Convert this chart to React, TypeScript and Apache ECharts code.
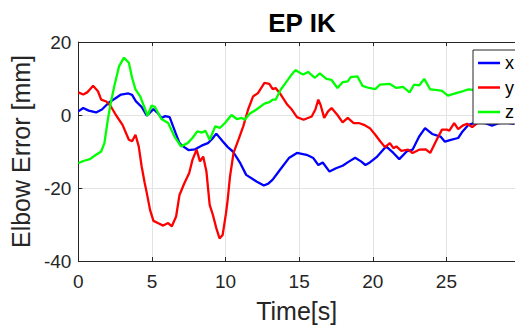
import React, { useEffect, useRef } from "react";
import * as echarts from "echarts";

// Elbow position error per axis over time (s, mm)
const xTime = [0, 0.33, 0.7, 1.2, 1.6, 2.1, 2.5, 2.9, 3.4, 3.65, 3.9, 4.3, 4.65, 5.1, 5.4, 5.64, 5.9, 6.2, 6.6, 6.87, 7.04, 7.48, 7.93, 8.37, 8.8, 9.1, 9.37, 9.8, 10.15, 10.5, 11, 11.4, 12.1, 12.6, 12.9, 13.2, 13.7, 14.3, 14.85, 15.5, 15.96, 16.3, 16.6, 17.06, 17.5, 17.95, 18.4, 18.8, 19.2, 19.5, 19.8, 20.3, 20.9, 21.4, 21.8, 22.3, 22.7, 23.15, 23.55, 24.03, 24.6, 24.9, 25.3, 25.8, 26.1, 26.5, 27.2, 27.6, 28.1, 28.5, 28.9, 29.6];
const xErr = [1.0, 1.9, 1.2, 0.7, 1.5, 3.5, 4.5, 5.6, 5.9, 5.5, 3.8, 2.2, -0.2, 1.6, 0.5, -0.8, -0.3, -0.6, -4.9, -7.7, -8.4, -9.6, -9.4, -8.4, -7.7, -6.5, -5.1, -7.2, -8.8, -10, -13.2, -16.4, -18.2, -19.3, -18.8, -17.7, -15, -11.8, -10.4, -10.9, -11.8, -13.7, -13, -15.5, -14.6, -13.9, -12.7, -11.7, -12.7, -13.7, -13, -11.4, -8.6, -10.4, -12.1, -10, -9.5, -5.9, -3.6, -5.2, -5.9, -7.3, -6.8, -6.3, -4.5, -2.7, -1.8, -2.2, -2.9, -2.3, -2.0, -2.4];

const yTime = [0, 0.33, 0.6, 0.78, 1.0, 1.33, 1.55, 1.9, 2.2, 2.55, 3.0, 3.43, 3.65, 3.88, 4.1, 4.3, 4.5, 4.65, 4.87, 5.1, 5.4, 5.76, 6.1, 6.35, 6.64, 6.87, 7.2, 7.53, 7.75, 8.03, 8.26, 8.48, 8.7, 8.92, 9.14, 9.37, 9.59, 9.8, 10.03, 10.14, 10.3, 10.54, 10.87, 11.2, 11.53, 11.87, 12.2, 12.64, 12.97, 13.2, 13.4, 13.75, 14.2, 14.5, 14.85, 15.3, 15.85, 16.1, 16.3, 16.45, 16.7, 16.96, 17.2, 17.6, 17.95, 18.3, 18.7, 19.05, 19.4, 19.8, 20.17, 20.5, 20.83, 21.16, 21.4, 21.6, 21.94, 22.4, 22.7, 23.15, 23.6, 23.9, 24.4, 24.7, 25.03, 25.2, 25.53, 25.8, 26.1, 26.4, 26.75, 27.1, 27.6, 28.2, 28.8, 29.6];
const yErr = [6.2, 5.6, 6.2, 7, 8, 6.5, 4.2, 3.7, 2.4, 0, -2.7, -6.8, -7.2, -5.4, -8.6, -14.1, -18.5, -21.4, -26, -29, -29.6, -30.3, -29.6, -30.5, -27.8, -21.9, -18.7, -15.9, -12.3, -9.5, -12.7, -11.4, -15.5, -24.6, -27.4, -31, -33.8, -32.9, -26.9, -23.3, -16.9, -10.4, -6.8, -3.1, 1.5, 5.1, 6, 8.8, 8.5, 7.1, 7.4, 5.6, 2.8, 1.5, -0.6, -1.3, -0.4, 1.5, 4.2, 2.8, -0.8, 1, 1.9, 0, -2, -0.8, -2.2, -2.2, -2.7, -3.6, -5.4, -7.2, -8.8, -7.7, -9.1, -8.6, -9.8, -9.5, -10.4, -9.5, -9.4, -10.4, -6.3, -4, -4, -4.3, -2.2, -3.9, -2.9, -2.4, -3.3, -2.2, -1.3, -0.8, -0.4, -0.2];

const zTime = [0, 0.33, 0.78, 1.2, 1.55, 1.77, 2.0, 2.2, 2.44, 2.77, 3.1, 3.43, 3.65, 3.88, 4.2, 4.54, 4.7, 4.98, 5.2, 5.64, 6.1, 6.53, 6.97, 7.42, 7.75, 8.08, 8.4, 8.63, 8.92, 9.3, 9.63, 9.96, 10.4, 10.76, 11.1, 11.3, 11.65, 12.1, 12.64, 12.97, 13.2, 13.4, 13.75, 14.08, 14.4, 14.74, 15.07, 15.27, 15.6, 16.07, 16.4, 16.85, 17.2, 17.6, 17.95, 18.3, 18.5, 18.95, 19.3, 19.74, 20.17, 20.48, 21.16, 21.6, 22.05, 22.5, 22.8, 23.15, 23.5, 23.9, 24.4, 24.7, 25.1, 25.66, 26.1, 26.5, 27, 27.5, 28, 28.9, 29.6];
const zErr = [-13.2, -12.6, -12.1, -10.9, -10, -7.7, -1.3, 3.3, 7.9, 13.4, 15.7, 14.3, 10.2, 7, 5.1, 1.5, -0.2, 2.6, 2.2, -1.1, -2.2, -5.9, -8.6, -7.7, -6.3, -4.5, -4.8, -4.3, -6.8, -3.1, -3.5, -2.2, 0, -1.1, -0.8, -1.3, 0.4, 1.5, 3.1, 3.5, 4.2, 4.2, 7, 8.8, 10.6, 12.3, 11.5, 11.1, 11.8, 10.2, 11.4, 9.9, 9.6, 7.4, 9, 9.2, 10.4, 10.6, 8, 7.4, 7.1, 8.3, 8.5, 7.4, 7.7, 6.2, 8.3, 8.1, 9.9, 7, 6.8, 6.6, 5.3, 6, 6.5, 7, 6.8, 7.2, 7, 7.3, 7.1];

const seriesNames = ["x", "y", "z"];
const seriesColors = ["#0000ff", "#ff0000", "#00ff00"];
const yTicks = { min: -40, max: 20, interval: 20 };
const xTicks = { min: 0, max: 29.66, interval: 5 };

const FONT = "'Liberation Sans', Arial, Helvetica, sans-serif";
const INK = "#262626";
const GRID = "#e3e3e3";

function pairs(t: number[], v: number[]) {
  return t.map((ti, i) => [ti, v[i]]);
}

export default function App() {
  const ref = useRef<HTMLDivElement>(null);

  useEffect(() => {
    document.body.style.margin = "0";
    if (!ref.current) return;
    const chart = echarts.init(ref.current, undefined, { renderer: "svg" });
    const data = [pairs(xTime, xErr), pairs(yTime, yErr), pairs(zTime, zErr)];

    const frameLine = { show: true, onZero: false, lineStyle: { color: INK, width: 1 } };
    const frameTick = { show: true, inside: true, length: 4, lineStyle: { color: INK } };

    chart.setOption({
      animation: false,
      backgroundColor: "#ffffff",
      graphic: [
        {
          type: "text",
          x: 302,
          y: 23,
          style: {
            text: "EP IK",
            font: `bold 26px ${FONT}`,
            fill: "#000000",
            textAlign: "center",
            textVerticalAlign: "middle",
          },
        },
      ],
      grid: { left: 78, top: 42, right: -10, bottom: 68 },
      legend: {
        orient: "vertical",
        left: 473,
        top: 50,
        padding: [4, 14, 3, 5],
        itemWidth: 22,
        itemHeight: 2.5,
        itemGap: 6.5,
        icon: "rect",
        selectedMode: false,
        backgroundColor: "#ffffff",
        borderColor: INK,
        borderWidth: 1,
        borderRadius: 0,
        textStyle: { fontFamily: FONT, fontSize: 18, color: "#000000", lineHeight: 18 },
        data: seriesNames,
      },
      xAxis: [
        {
          type: "value",
          ...xTicks,
          name: "Time[s]",
          nameLocation: "middle",
          nameGap: 37,
          nameTextStyle: { fontFamily: FONT, fontSize: 25, color: INK },
          axisLine: frameLine,
          axisTick: frameTick,
          axisLabel: { fontFamily: FONT, fontSize: 19, color: INK, margin: 11, showMaxLabel: false },
          splitLine: { show: true, lineStyle: { color: GRID, width: 1 } },
        },
        {
          type: "value",
          position: "top",
          ...xTicks,
          axisLine: frameLine,
          axisTick: frameTick,
          axisLabel: { show: false },
          splitLine: { show: false },
        },
      ],
      yAxis: {
        type: "value",
        ...yTicks,
        name: "Elbow Error [mm]",
        nameLocation: "middle",
        nameGap: 39,
        nameTextStyle: { fontFamily: FONT, fontSize: 25, color: INK },
        axisLine: frameLine,
        axisTick: frameTick,
        axisLabel: { fontFamily: FONT, fontSize: 19, color: INK, margin: 7 },
        splitLine: { show: true, lineStyle: { color: GRID, width: 1 } },
      },
      series: seriesNames.map((name, i) => ({
        name,
        type: "line",
        data: data[i],
        symbol: "none",
        smooth: false,
        clip: true,
        lineStyle: { color: seriesColors[i], width: 2.3 },
        itemStyle: { color: seriesColors[i] },
      })),
    });

    return () => chart.dispose();
  }, []);

  return <div ref={ref} style={{ width: 515, height: 329 }} />;
}
